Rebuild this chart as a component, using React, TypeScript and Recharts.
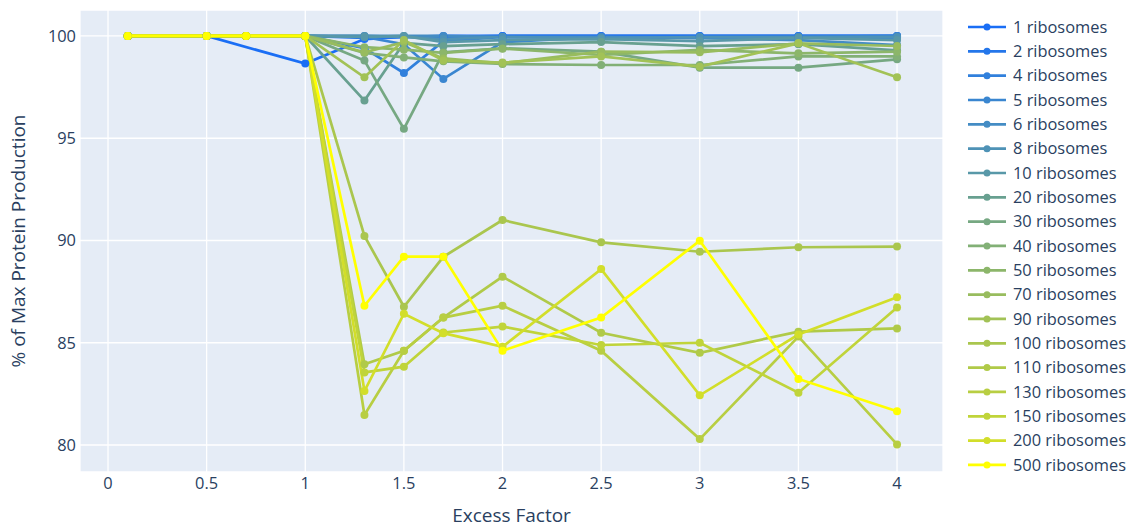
import React from 'react';
import { LineChart, Line, XAxis, YAxis, CartesianGrid, Legend } from 'recharts';

// excess factor values (x)
const excess = [0.1, 0.5, 0.7, 1, 1.3, 1.5, 1.7, 2, 2.5, 3, 3.5, 4];

// % of max protein production per ribosome count
const r1 = [100, 100, null, 98.65, 99.85, 99.95, 100, 100, 100, 100, 100, 100];
const r2 = [100, 100, 100, 100, 99.9, 99.95, 99.95, 100, 100, 100, 100, 100];
const r4 = [100, 100, 100, 100, 99.4, 98.19, 99.75, 99.95, 99.9, 99.95, 99.95, 99.9];
const r5 = [100, 100, 100, 100, 99.95, 99.6, 97.9, 99.7, 99.95, 99.9, 99.95, 100];
const r6 = [100, 100, 100, 100, 100, 100, 100, 99.95, 99.95, 99.9, 99.8, 99.55];
const r8 = [100, 100, 100, 100, 100, 99.95, 99.85, 99.95, 99.9, 99.95, 99.95, 99.95];
const r10 = [100, 100, 100, 100, 99.95, 100, 99.7, 99.8, 99.85, 99.75, 99.9, 99.8];
const r20 = [100, 100, 100, 100, 96.84, 99.66, 99.5, 99.6, 99.7, 99.5, 99.6, 99.3];
const r30 = [100, 100, 100, 100, 98.8, 95.46, 99.2, 99.4, 99.23, 98.45, 98.45, 98.86];
const r40 = [100, 100, 100, 100, 99.17, 98.95, 98.76, 98.63, 98.58, 98.58, 99.0, 99.0];
const r50 = [100, 100, 100, 100, 99.45, 99.33, 99.17, 99.38, 99.07, 99.32, 99.15, 99.23];
const r70 = [100, 100, 100, 100, 99.2, 99.7, 98.9, 98.66, 99.23, 99.2, 99.64, 99.51];
const r90 = [100, 100, 100, 100, 97.98, 99.8, 98.8, 98.7, 99.0, 98.5, 99.64, 97.98];
const r100 = [100, 100, 100, 100, 90.22, 86.76, 89.2, 91.0, 89.91, 89.45, 89.67, 89.7];
const r110 = [100, 100, 100, 100, 83.95, 84.61, 86.23, 88.23, 85.49, 84.51, 85.54, 85.7];
const r130 = [100, 100, 100, 100, 81.47, 84.61, 86.23, 86.81, 84.61, 80.29, 85.3, 80.03];
const r150 = [100, 100, 100, 100, 83.55, 83.83, 85.5, 85.79, 84.89, 85.0, 82.56, 86.72];
const r200 = [100, 100, 100, 100, 82.64, 86.42, 85.47, 84.8, 88.6, 82.43, 85.4, 87.22];
const r500 = [100, 100, 100, 100, 86.81, 89.21, 89.21, 84.61, 86.23, 89.99, 83.23, 81.65];

const series = [
  { name: '1 ribosomes', values: r1, color: '#1a6ef5' },
  { name: '2 ribosomes', values: r2, color: '#2476ea' },
  { name: '4 ribosomes', values: r4, color: '#3180dc' },
  { name: '5 ribosomes', values: r5, color: '#3a86d0' },
  { name: '6 ribosomes', values: r6, color: '#448cc4' },
  { name: '8 ribosomes', values: r8, color: '#4e92b6' },
  { name: '10 ribosomes', values: r10, color: '#5898a8' },
  { name: '20 ribosomes', values: r20, color: '#68a090' },
  { name: '30 ribosomes', values: r30, color: '#76a882' },
  { name: '40 ribosomes', values: r40, color: '#82b076' },
  { name: '50 ribosomes', values: r50, color: '#8cb66a' },
  { name: '70 ribosomes', values: r70, color: '#98bc5e' },
  { name: '90 ribosomes', values: r90, color: '#a2c256' },
  { name: '100 ribosomes', values: r100, color: '#aac64e' },
  { name: '110 ribosomes', values: r110, color: '#b0ca48' },
  { name: '130 ribosomes', values: r130, color: '#b8ce42' },
  { name: '150 ribosomes', values: r150, color: '#c0d43a' },
  { name: '200 ribosomes', values: r200, color: '#d2de2a' },
  { name: '500 ribosomes', values: r500, color: '#ffff00' },
];

const xTicks = [0, 0.5, 1, 1.5, 2, 2.5, 3, 3.5, 4];
const yTicks = [80, 85, 90, 95, 100];

const rows = excess.map((x, i) => {
  const row: Record<string, number | null> = { x };
  series.forEach((s, k) => {
    row['s' + k] = s.values[i];
  });
  return row;
});

const FONT = '"Open Sans", "Noto Sans", sans-serif';
const INK = '#2a3f5f';

const renderLegend = () => (
  <svg width={174} height={470}>
    {series.map((s, i) => {
      const y = 12 + i * 24.33;
      return (
        <g key={s.name}>
          <line x1={8} x2={46} y1={y} y2={y} stroke={s.color} strokeWidth={2.7} />
          <circle cx={27} cy={y} r={3.5} fill={s.color} />
          <text x={53} y={y} dy="0.35em" fontSize={16.4} fontFamily={FONT} fill={INK}>
            {s.name}
          </text>
        </g>
      );
    })}
  </svg>
);

export default function App() {
  return (
    <div style={{ position: 'absolute', left: 0, top: 0, background: '#fff' }}>
      <LineChart
        width={1134}
        height={528}
        data={rows}
        margin={{ top: 10, right: 191, bottom: 0, left: 0 }}
      >
        <CartesianGrid fill="#E5ECF6" stroke="#ffffff" strokeWidth={1.3} />
        <XAxis
          dataKey="x"
          type="number"
          domain={[-0.142, 4.233]}
          ticks={xTicks}
          allowDataOverflow
          height={56}
          tickLine={false}
          axisLine={false}
          tickSize={0}
          tickMargin={5}
          tick={{ fill: INK, fontSize: 16.4, fontFamily: FONT }}
          label={{
            value: 'Excess Factor',
            position: 'insideBottom',
            offset: 6,
            style: { fill: INK, fontSize: 19, fontFamily: FONT },
          }}
        />
        <YAxis
          type="number"
          domain={[78.68, 101.27]}
          ticks={yTicks}
          allowDataOverflow
          width={80}
          tickLine={false}
          axisLine={false}
          tickSize={0}
          tickMargin={4}
          tick={{ fill: INK, fontSize: 16.4, fontFamily: FONT }}
          label={{
            value: '% of Max Protein Production',
            angle: -90,
            position: 'insideLeft',
            offset: 18,
            style: { fill: INK, fontSize: 19, fontFamily: FONT, textAnchor: 'middle' },
          }}
        />
        {series.map((s, k) => (
          <Line
            key={s.name}
            type="linear"
            dataKey={'s' + k}
            name={s.name}
            stroke={s.color}
            strokeWidth={2.7}
            dot={{ r: 4, fill: s.color, stroke: s.color, strokeWidth: 0 }}
            activeDot={false}
            connectNulls
            isAnimationActive={false}
          />
        ))}
        <Legend
          layout="vertical"
          align="center"
          verticalAlign="middle"
          content={renderLegend}
          wrapperStyle={{ left: 960, top: 15, width: 174, height: 470 }}
        />
      </LineChart>
    </div>
  );
}
